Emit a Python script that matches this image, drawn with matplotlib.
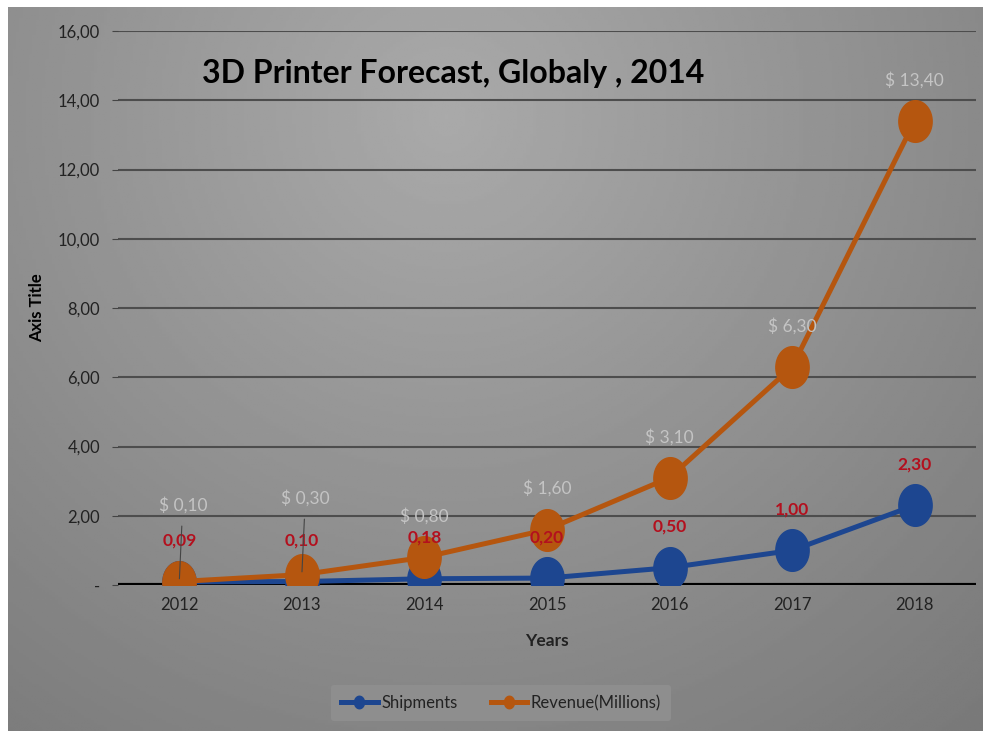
import numpy as np
import matplotlib
matplotlib.use("Agg")
import matplotlib.pyplot as plt
from matplotlib.path import Path

# Data
years = ["2012", "2013", "2014", "2015", "2016", "2017", "2018"]
shipments = [0.09, 0.10, 0.18, 0.20, 0.50, 1.00, 2.30]
revenue = [0.10, 0.30, 0.80, 1.60, 3.10, 6.30, 13.40]
ship_labels = ["0,09", "0,10", "0,18", "0,20", "0,50", "1,00", "2,30"]
rev_labels = ["$ 0,10", "$ 0,30", "$ 0,80", "$ 1,60", "$ 3,10", "$ 6,30", "$ 13,40"]
yticks = [0, 2, 4, 6, 8, 10, 12, 14, 16]
ytick_labels = ["-", "2,00", "4,00", "6,00", "8,00", "10,00", "12,00", "14,00", "16,00"]

plt.rcParams["font.family"] = ["Lato", "DejaVu Sans"]

BLUE = "#1d4690"
ORANGE = "#b5560f"
RED = "#b3101e"
LIGHT = "#c4c4c4"
TXT = "#222222"

fig = plt.figure(figsize=(9.83, 7.31), dpi=100, facecolor="white")

# gradient background
bg = fig.add_axes([8 / 983, 0, 1 - 8 / 983, 1 - 7 / 731], zorder=-5)
xx, yy = np.meshgrid(np.linspace(0, 1, 300), np.linspace(0, 1, 300))
r = np.sqrt(((xx - 0.45) / 0.75) ** 2 + ((yy - 0.15) / 1.0) ** 2)
shade = np.clip(0.665 - 0.17 * r, 0.47, 0.7)
bg.imshow(shade, cmap="gray", vmin=0, vmax=1, aspect="auto", extent=[0, 1, 1, 0])
bg.axis("off")

ax = fig.add_axes([118 / 983, 1 - 585 / 731, (976 - 118) / 983, (585 - 31) / 731])
ax.set_facecolor("none")

# tall ellipse marker
t = np.linspace(0, 2 * np.pi, 60)
ellipse = Path(np.column_stack([0.8 * np.cos(t), np.sin(t)]))

x = np.arange(len(years))
ax.plot(x, shipments, color=BLUE, lw=3.6, marker=ellipse, ms=30, zorder=3,
        label="Shipments")
ax.plot(x, revenue, color=ORANGE, lw=3.6, marker=ellipse, ms=30, zorder=4,
        label="Revenue(Millions)")

for i in range(len(years)):
    ax.annotate(ship_labels[i], (x[i], shipments[i]), xytext=(0, 29.5),
                textcoords="offset points", ha="center", va="center",
                color=RED, fontsize=12.5, fontweight="bold", zorder=6)
    if i < 2:
        ax.annotate(rev_labels[i], (x[i], revenue[i]), xytext=(2.5, 55),
                    textcoords="offset points", ha="center", va="center",
                    color=LIGHT, fontsize=12.5, zorder=6,
                    arrowprops=dict(arrowstyle="-", color="#444444", lw=0.8,
                                    shrinkA=7, shrinkB=2))
    else:
        ax.annotate(rev_labels[i], (x[i], revenue[i]), xytext=(0, 29.5),
                    textcoords="offset points", ha="center", va="center",
                    color=LIGHT, fontsize=12.5, zorder=6)

ax.set_xlim(-0.5, len(years) - 0.5)
ax.set_ylim(0, 16)
ax.set_xticks(x)
ax.set_xticklabels(years)
ax.set_yticks(yticks)
ax.set_yticklabels(ytick_labels)
ax.grid(axis="y", color="#4d4d4d", lw=1.5)
ax.axhline(0, color="black", lw=3, zorder=2)
for s in ax.spines.values():
    s.set_visible(False)
ax.tick_params(axis="y", length=4, color="#444444", labelsize=12, labelcolor=TXT, pad=9)
ax.tick_params(axis="x", length=0, labelsize=12, labelcolor=TXT, pad=9)

ax.set_xlabel("Years", fontsize=12.5, fontweight="bold", color=TXT, labelpad=14)
ax.set_ylabel("Axis Title", fontsize=12, fontweight="bold", color="black")
ax.yaxis.set_label_coords(-0.085, 0.5)

fig.text(453 / 983, 1 - 73 / 731, "3D Printer Forecast, Globaly , 2014",
         ha="center", va="center", fontsize=23, fontweight="bold", color="black")

leg = fig.legend(loc="center", bbox_to_anchor=(501 / 983, 1 - 703 / 731), ncol=2,
                 frameon=True, fontsize=12, markerscale=0.3, handlelength=2.2,
                 columnspacing=2.0, handletextpad=0.2, borderpad=0.6)
leg.get_frame().set_facecolor("#8e8e8e")
leg.get_frame().set_edgecolor("none")
leg.get_frame().set_alpha(1)
for txt in leg.get_texts():
    txt.set_color(TXT)

fig.savefig("out.png", dpi=100, facecolor="white")
